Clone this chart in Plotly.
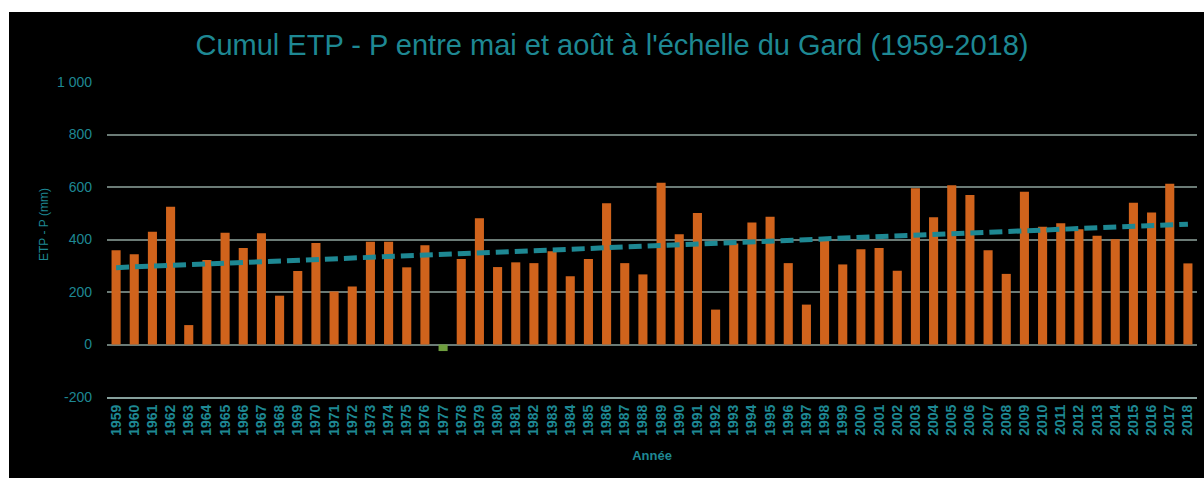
import numpy as np
import plotly.graph_objects as go

# Cumul ETP - P (mm), mai-août, département du Gard
annees = [str(a) for a in range(1959, 2019)]
etp_moins_p = [
    359, 344, 430, 525, 74, 322, 426, 368, 424, 186,
    280, 387, 202, 221, 391, 391, 294, 378, -25, 326,
    481, 295, 313, 310, 355, 260, 326, 538, 310, 267,
    616, 420, 501, 133, 385, 465, 487, 310, 152, 398,
    305, 363, 368, 281, 595, 485, 607, 570, 359, 269,
    582, 449, 462, 439, 414, 401, 540, 503, 612, 309,
]
y_ticks = [-200, 0, 200, 400, 600, 800, 1000]
y_tick_text = ["-200", "0", "200", "400", "600", "800", "1 000"]

TEAL = "#1E8893"
ORANGE = "#D0631C"
GREEN = "#6E9E3E"
GRID = "#6B7B76"
FONT = "Liberation Sans, Arial, sans-serif"

# Tendance linéaire (moindres carrés) sur la série annuelle
idx = np.arange(len(etp_moins_p))
pente, origine = np.polyfit(idx, np.array(etp_moins_p, dtype=float), 1)
tendance = (origine + pente * idx).tolist()

couleurs = [ORANGE if v >= 0 else GREEN for v in etp_moins_p]

fig = go.Figure()
fig.add_trace(go.Bar(
    x=annees, y=etp_moins_p, marker=dict(color=couleurs, line=dict(width=0)),
    name="ETP - P",
))
fig.add_trace(go.Scatter(
    x=annees, y=tendance, mode="lines",
    line=dict(color=TEAL, width=5, dash="13px,6px"),
    name="Tendance",
))

# Marges en pixels de la zone de tracé
L, R, T, B = 107, 7, 82, 81
W, H = 1204, 478
pw, ph = W - L - R, H - T - B

# Fond noir du graphique (liseré blanc à gauche et en haut)
fig.add_shape(
    type="rect", xref="paper", yref="paper", layer="below",
    x0=(9 - L) / pw, x1=(W + 5 - L) / pw,
    y0=-(H + 5 - (H - B)) / ph, y1=((H - B) - 12) / ph,
    fillcolor="black", line=dict(width=0),
)

fig.add_annotation(
    text="ETP - P (mm)", textangle=-90, showarrow=False,
    xref="paper", yref="paper",
    x=(44 - L) / pw, y=((H - B) - 225) / ph,
    xanchor="center", yanchor="middle",
    font=dict(family=FONT, size=12, color=TEAL),
)

fig.update_layout(
    width=W, height=H,
    margin=dict(l=L, r=R, t=T, b=B),
    paper_bgcolor="white",
    plot_bgcolor="rgba(0,0,0,0)",
    showlegend=False,
    bargap=0.5,
    title=dict(
        text="Cumul ETP - P entre mai et août à l'échelle du Gard (1959-2018)",
        x=612 / W, xanchor="center",
        y=1 - 45 / H, yanchor="middle",
        font=dict(family=FONT, size=29, color=TEAL),
    ),
    xaxis=dict(
        type="category",
        tickangle=-90,
        tickfont=dict(family=FONT, size=14, color=TEAL, weight="bold"),
        showgrid=False,
        showline=True, linecolor="#86A09C", linewidth=2,
        ticks="",
        title=dict(text="Année", font=dict(family=FONT, size=13, color=TEAL, weight="bold"),
                   standoff=16),
    ),
    yaxis=dict(
        range=[-200, 1000],
        tickvals=y_ticks, ticktext=y_tick_text,
        tickfont=dict(family=FONT, size=14, color=TEAL),
        showgrid=True, gridcolor=GRID, gridwidth=1.5,
        zeroline=True, zerolinecolor=GRID, zerolinewidth=1.5,
        showline=False, ticks="", ticklabelstandoff=14,
    ),
)

fig.write_html("out.html")
